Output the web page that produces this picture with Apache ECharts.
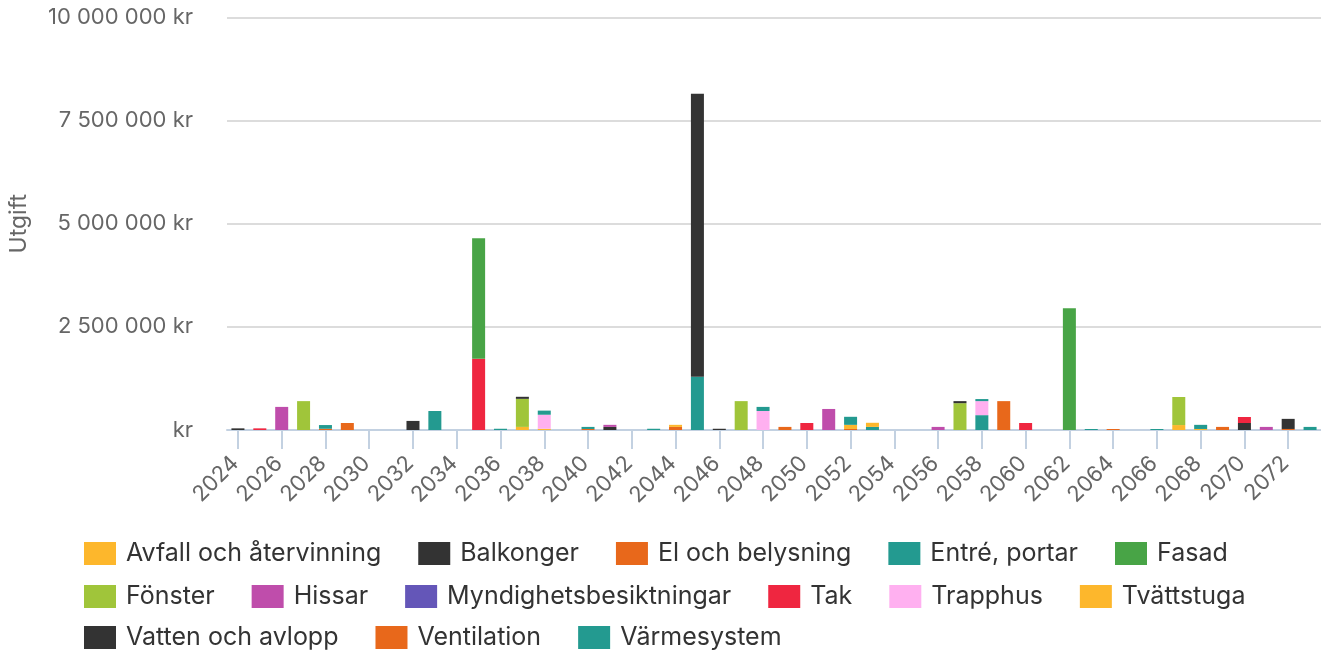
<!DOCTYPE html>
<html>
<head>
<meta charset="utf-8">
<title>Utgift per år</title>
<script src="https://cdn.jsdelivr.net/npm/echarts@6/dist/echarts.min.js"></script>
<style>
  html, body { margin: 0; padding: 0; background: #fff; }
  #chart { width: 1321px; height: 651px; }
</style>
</head>
<body>
<div id="chart"></div>
<script>
// Years on the category axis
const years = [];
for (let y = 2024; y <= 2073; y++) years.push(String(y));

// Planned costs per category and year (kr), 2024 … 2073
const avfall =        [0,0,0,0,0,0,0,0,0,0, 0,0,0,0,0,0,0,0,0,0, 0,0,0,0,0,0,0,0,0,0, 0,0,0,0,0,0,0,0,0,0, 0,0,0,0,0,0,0,0,0,0];
const balkonger =     [40000,0,0,0,0,0,0,0,220000,0, 0,0,0,50000,0,0,0,0,0,0, 0,0,30000,0,0,0,0,0,0,0, 0,0,0,50000,0,0,0,0,0,0, 0,0,0,0,0,0,0,0,245000,0];
const elBelysning =   [0,0,0,0,0,0,0,0,0,0, 0,0,0,0,0,0,0,0,0,0, 0,0,0,0,0,0,0,0,0,0, 0,0,0,0,0,0,0,0,0,0, 25000,0,0,0,0,0,0,0,0,0];
const entre =         [0,0,0,0,90000,0,0,0,0,460000, 0,0,30000,0,100000,0,50000,0,0,30000, 0,0,0,0,100000,0,0,0,195000,0, 0,0,0,0,50000,0,0,0,0,25000, 0,0,25000,0,100000,0,0,0,0,75000];
const fasad =         [0,0,0,0,0,0,0,0,0,0, 0,2920000,0,0,0,0,0,0,0,0, 0,0,0,0,0,0,0,0,0,0, 0,0,0,0,0,0,0,0,2950000,0, 0,0,0,0,0,0,0,0,0,0];
const fonster =       [0,0,0,700000,0,0,0,0,0,0, 0,0,0,680000,0,0,0,0,0,0, 0,0,0,700000,0,0,0,0,0,0, 0,0,0,650000,0,0,0,0,0,0, 0,0,0,680000,0,0,0,0,0,0];
const hissar =        [0,0,560000,0,0,0,0,0,0,0, 0,0,0,0,0,0,0,50000,0,0, 0,0,0,0,0,0,0,510000,0,0, 0,0,75000,0,0,0,0,0,0,0, 0,0,0,0,0,0,0,75000,0,0];
const myndighet =     [0,0,0,0,0,0,0,0,0,0, 0,0,0,0,0,0,0,0,0,0, 0,0,0,0,0,0,0,0,0,0, 0,0,0,0,0,0,0,0,0,0, 0,0,0,0,0,0,0,0,0,0];
const tak =           [0,40000,0,0,0,0,0,0,0,0, 0,1730000,0,0,0,0,0,0,0,0, 0,0,0,0,0,0,170000,0,0,0, 0,0,0,0,0,0,170000,0,0,0, 0,0,0,0,0,0,145000,0,0,0];
const trapphus =      [0,0,0,0,0,0,0,0,0,0, 0,0,0,0,340000,0,0,0,0,0, 0,0,0,0,460000,0,0,0,0,0, 0,0,0,0,340000,0,0,0,0,0, 0,0,0,0,0,0,0,0,0,0];
const tvattstuga =    [0,0,0,0,0,0,0,0,0,0, 0,0,0,75000,30000,0,0,0,0,0, 50000,0,0,0,0,0,0,0,100000,100000, 0,0,0,0,0,0,0,0,0,0, 0,0,0,120000,25000,0,0,0,0,0];
const vattenAvlopp =  [0,0,0,0,0,0,0,0,0,0, 0,0,0,0,0,0,0,75000,0,0, 0,6860000,0,0,0,0,0,0,0,0, 0,0,0,0,0,0,0,0,0,0, 0,0,0,0,0,0,170000,0,0,0];
const ventilation =   [0,0,0,0,30000,170000,0,0,0,0, 0,0,0,0,0,0,25000,0,0,0, 75000,0,0,0,0,75000,0,0,25000,0, 0,0,0,0,0,700000,0,0,0,0, 0,0,0,0,0,75000,0,0,25000,0];
const varmesystem =   [0,0,0,0,0,0,0,0,0,0, 0,0,0,0,0,0,0,0,0,0, 0,1290000,0,0,0,0,0,0,0,75000, 0,0,0,0,360000,0,0,0,0,0, 0,0,0,0,0,0,0,0,0,0];

// Axis range and tick step (kr)
const yMin = 0;
const yMax = 10000000;
const yStep = 2500000;

const seriesDefs = [
  { name: 'Avfall och återvinning', data: avfall,       color: '#fdb72c' },
  { name: 'Balkonger',              data: balkonger,    color: '#333333' },
  { name: 'El och belysning',       data: elBelysning,  color: '#e8681b' },
  { name: 'Entré, portar',          data: entre,        color: '#239a90' },
  { name: 'Fasad',                  data: fasad,        color: '#48a446' },
  { name: 'Fönster',                data: fonster,      color: '#a0c53a' },
  { name: 'Hissar',                 data: hissar,       color: '#bf4dab' },
  { name: 'Myndighetsbesiktningar', data: myndighet,    color: '#6456b8' },
  { name: 'Tak',                    data: tak,          color: '#ef2640' },
  { name: 'Trapphus',               data: trapphus,     color: '#ffb0f0' },
  { name: 'Tvättstuga',             data: tvattstuga,   color: '#fdb72c' },
  { name: 'Vatten och avlopp',      data: vattenAvlopp, color: '#333333' },
  { name: 'Ventilation',            data: ventilation,  color: '#e8681b' },
  { name: 'Värmesystem',            data: varmesystem,  color: '#239a90' }
];

const FONT = 'Inter, "Noto Sans", sans-serif';

function kr(v) {
  if (v === 0) return 'kr';
  return String(v).replace(/\B(?=(\d{3})+(?!\d))/g, ' ') + ' kr';
}

function legendRow(names, top) {
  return {
    data: names,
    top: top,
    left: 79,
    orient: 'horizontal',
    icon: 'rect',
    itemWidth: 32,
    itemHeight: 23,
    itemGap: 37,
    selectedMode: false,
    textStyle: { fontFamily: FONT, fontSize: 25, color: '#333', padding: [0, 0, 0, 5] }
  };
}

const chart = echarts.init(document.getElementById('chart'), null, { renderer: 'canvas' });

chart.setOption({
  animation: false,
  backgroundColor: '#ffffff',
  grid: { left: 225.5, right: 0, top: 17.5, bottom: 221, containLabel: false },
  legend: [
    legendRow(seriesDefs.slice(0, 5).map(s => s.name), 536),
    legendRow(seriesDefs.slice(5, 11).map(s => s.name), 579),
    legendRow(seriesDefs.slice(11).map(s => s.name), 620)
  ],
  xAxis: {
    type: 'category',
    data: years,
    axisLine: { show: true, lineStyle: { color: '#c3d1e1', width: 2 } },
    axisTick: { show: true, interval: 1, alignWithLabel: true, length: 19, lineStyle: { color: '#c3d1e1', width: 2 } },
    axisLabel: { interval: 1, rotate: 45, margin: 27, padding: [0, 4, 0, 0], fontFamily: FONT, fontSize: 22, color: '#666' }
  },
  yAxis: {
    type: 'value',
    min: yMin,
    max: yMax,
    interval: yStep,
    name: 'Utgift',
    nameLocation: 'middle',
    nameRotate: 90,
    nameGap: 196,
    nameTextStyle: { fontFamily: FONT, fontSize: 23, color: '#666' },
    axisLine: { show: false },
    axisTick: { show: false },
    splitLine: { lineStyle: { color: '#dcdcdc', width: 2 } },
    axisLabel: { formatter: kr, margin: 34, fontFamily: FONT, fontSize: 22, color: '#666' }
  },
  // Stacked from the last category upwards to the first
  series: seriesDefs.slice().reverse().map(s => ({
    name: s.name,
    type: 'bar',
    stack: 'total',
    barWidth: 13,
    data: s.data,
    itemStyle: { color: s.color },
    emphasis: { disabled: true }
  }))
});
</script>
</body>
</html>
